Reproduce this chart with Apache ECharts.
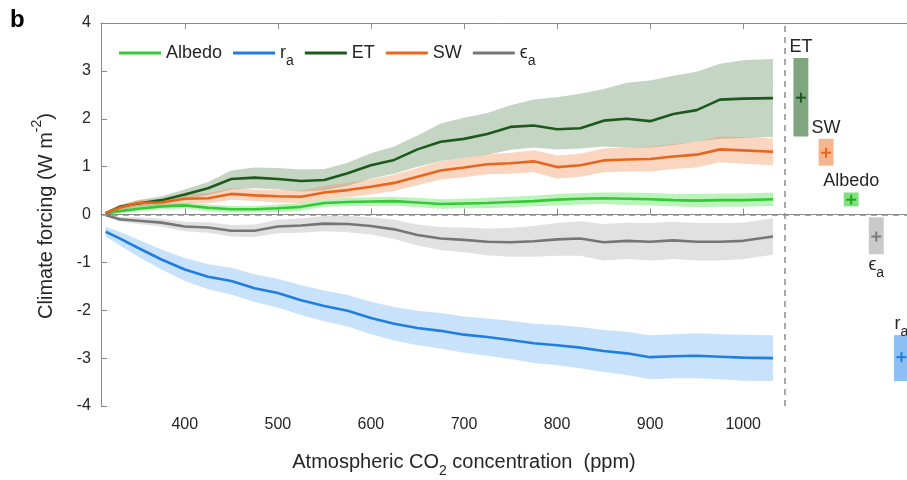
<!DOCTYPE html>
<html><head><meta charset="utf-8">
<script src="https://cdn.jsdelivr.net/npm/echarts@6/dist/echarts.min.js"></script>
<style>html,body{margin:0;padding:0;background:#fff}#c{width:907px;height:480px}</style>
</head><body><div id="c"></div>
<script>
// ---- data ----
const co2 = [315,330,350,375,400,425,450,475,500,525,550,575,600,625,650,675,700,725,750,775,800,825,850,875,900,925,950,975,1000,1032];

const albedoMean = [0.02,0.07,0.12,0.17,0.19,0.14,0.11,0.11,0.13,0.16,0.24,0.26,0.27,0.28,0.25,0.22,0.23,0.24,0.26,0.28,0.31,0.33,0.34,0.33,0.32,0.30,0.29,0.30,0.30,0.32];
const albedoHigh = [0.04,0.11,0.17,0.23,0.25,0.21,0.18,0.18,0.21,0.24,0.32,0.35,0.36,0.37,0.35,0.32,0.33,0.35,0.37,0.39,0.43,0.45,0.46,0.46,0.45,0.43,0.43,0.44,0.44,0.46];
const albedoLow  = [0.00,0.03,0.07,0.11,0.13,0.07,0.04,0.04,0.05,0.08,0.16,0.17,0.18,0.19,0.15,0.12,0.13,0.13,0.15,0.17,0.19,0.21,0.22,0.20,0.19,0.17,0.15,0.16,0.16,0.18];

const raMean = [-0.36,-0.50,-0.70,-0.94,-1.15,-1.30,-1.39,-1.54,-1.64,-1.79,-1.91,-2.01,-2.16,-2.28,-2.37,-2.43,-2.51,-2.56,-2.62,-2.69,-2.73,-2.78,-2.85,-2.90,-2.98,-2.96,-2.95,-2.97,-2.99,-3.00];
const raHigh = [-0.26,-0.36,-0.52,-0.73,-0.91,-1.04,-1.11,-1.25,-1.34,-1.48,-1.59,-1.68,-1.82,-1.93,-2.01,-2.06,-2.13,-2.17,-2.22,-2.28,-2.31,-2.35,-2.41,-2.45,-2.52,-2.50,-2.48,-2.50,-2.51,-2.52];
const raLow  = [-0.46,-0.64,-0.88,-1.15,-1.39,-1.56,-1.67,-1.83,-1.94,-2.10,-2.23,-2.34,-2.50,-2.63,-2.73,-2.80,-2.89,-2.95,-3.02,-3.10,-3.15,-3.21,-3.29,-3.35,-3.44,-3.42,-3.42,-3.44,-3.47,-3.48];

const etMean = [0.03,0.16,0.23,0.30,0.42,0.55,0.74,0.77,0.74,0.70,0.72,0.86,1.03,1.14,1.36,1.52,1.58,1.68,1.83,1.86,1.78,1.80,1.96,2.00,1.95,2.10,2.18,2.40,2.42,2.43];
const etHigh = [0.05,0.20,0.30,0.38,0.52,0.68,0.92,0.98,0.97,0.94,0.95,1.08,1.28,1.42,1.65,1.90,2.02,2.12,2.28,2.40,2.45,2.52,2.62,2.75,2.80,2.90,2.98,3.15,3.22,3.25];
const etLow  = [0.00,0.10,0.15,0.22,0.32,0.40,0.52,0.55,0.52,0.48,0.50,0.60,0.75,0.85,1.00,1.12,1.18,1.25,1.35,1.40,1.36,1.38,1.42,1.40,1.40,1.45,1.52,1.58,1.60,1.62];

const swMean = [0.03,0.14,0.24,0.25,0.33,0.34,0.43,0.40,0.38,0.37,0.46,0.51,0.58,0.66,0.79,0.92,0.98,1.05,1.07,1.11,0.99,1.03,1.13,1.15,1.16,1.21,1.25,1.36,1.34,1.31];
const swHigh = [0.06,0.19,0.31,0.33,0.43,0.45,0.55,0.52,0.51,0.50,0.60,0.66,0.74,0.83,0.97,1.11,1.18,1.26,1.29,1.34,1.23,1.27,1.38,1.40,1.42,1.47,1.52,1.63,1.62,1.59];
const swLow  = [0.00,0.09,0.17,0.17,0.23,0.23,0.31,0.28,0.25,0.24,0.32,0.36,0.42,0.49,0.61,0.73,0.78,0.84,0.85,0.88,0.75,0.79,0.88,0.90,0.90,0.95,0.98,1.09,1.06,1.03];

const epsMean = [-0.01,-0.10,-0.13,-0.17,-0.25,-0.27,-0.34,-0.34,-0.25,-0.23,-0.19,-0.20,-0.24,-0.31,-0.43,-0.50,-0.53,-0.57,-0.58,-0.56,-0.52,-0.50,-0.58,-0.55,-0.57,-0.54,-0.57,-0.57,-0.55,-0.46];
const epsHigh = [0.01,-0.05,-0.06,-0.09,-0.15,-0.16,-0.22,-0.21,-0.11,-0.08,-0.03,-0.03,-0.06,-0.11,-0.21,-0.26,-0.27,-0.29,-0.28,-0.24,-0.18,-0.14,-0.20,-0.17,-0.18,-0.15,-0.18,-0.18,-0.17,-0.08];
const epsLow  = [-0.03,-0.15,-0.20,-0.25,-0.35,-0.38,-0.46,-0.47,-0.39,-0.38,-0.35,-0.37,-0.42,-0.51,-0.65,-0.74,-0.79,-0.85,-0.88,-0.88,-0.86,-0.86,-0.96,-0.93,-0.96,-0.93,-0.96,-0.96,-0.93,-0.84];

// summary bars on the right
const endNames = ['ET','SW','Albedo','ϵ_a','r_a'];
const endCO2   = [1062,1089,1116,1143,1170];
const endMean  = [2.44,1.29,0.31,-0.46,-2.98];
const endLow   = [1.63,1.02,0.17,-0.83,-3.48];
const endHigh  = [3.27,1.58,0.46,-0.06,-2.52];

const xTicks = [400,500,600,700,800,900,1000];
const divider = 1045;

// ---- styling ----
const FONT = "'Liberation Sans', Arial, sans-serif";
const AX = '#8a8a8a';
const TXT = '#262626';
const sty = {
  'Albedo': {line:'#35c935', band:'#4fe04f', bandOp:0.38, bar:'#7fe27f', plus:'#1fa51f', pos:'top'},
  'r_a':    {line:'#1f7fe0', band:'#5aa8f2', bandOp:0.33, bar:'#8cc0f3', plus:'#1f7fe0', pos:'top'},
  'ET':     {line:'#1c5a1c', band:'#4b7d48', bandOp:0.32, bar:'#7fa67f', plus:'#1c5a1c', pos:'top'},
  'SW':     {line:'#e8661c', band:'#f28a4e', bandOp:0.35, bar:'#f6b58c', plus:'#e8661c', pos:'top'},
  'ϵ_a':    {line:'#767676', band:'#b4b4b4', bandOp:0.40, bar:'#c9c9c9', plus:'#7a7a7a', pos:'bottom'}
};
function richName(n){
  const p = n.split('_');
  return p.length > 1 ? '{n|' + p[0] + '}{s|' + p[1] + '}' : '{n|' + n + '}';
}
const richStyles = {
  n: {fontSize:18, fontFamily:FONT, fill:TXT, color:TXT, lineHeight:18, padding:[0,0,6,0], verticalAlign:'top'},
  s: {fontSize:14, fontFamily:FONT, fill:TXT, color:TXT, lineHeight:14, padding:[10,0,0,0], verticalAlign:'top'}
};

function band(name, low, high) {
  const st = sty[name];
  return {
    type:'custom', coordinateSystem:'cartesian2d', silent:true, z:1,
    data:[[co2[0], low[0]]],
    renderItem:(params, api) => {
      const pts = [];
      for (let i = 0; i < co2.length; i++) pts.push(api.coord([co2[i], high[i]]));
      for (let i = co2.length - 1; i >= 0; i--) pts.push(api.coord([co2[i], low[i]]));
      return {type:'polygon', shape:{points:pts}, style:{fill:st.band, opacity:st.bandOp}};
    }
  };
}
function line(name, mean) {
  return {
    type:'line', name:name, z:3, showSymbol:false, symbol:'none', silent:true,
    data: co2.map((x,i)=>[x, mean[i]]),
    lineStyle:{color:sty[name].line, width:2.6},
    itemStyle:{color:sty[name].line}
  };
}

const series = [
  band('ET', etLow, etHigh),
  band('SW', swLow, swHigh),
  band('Albedo', albedoLow, albedoHigh),
  band('ϵ_a', epsLow, epsHigh),
  band('r_a', raLow, raHigh),
  line('Albedo', albedoMean),
  line('r_a', raMean),
  line('ET', etMean),
  line('SW', swMean),
  line('ϵ_a', epsMean),
  {
    type:'line', silent:true, data:[], z:2,
    markLine:{
      silent:true, symbol:'none', label:{show:false},
      lineStyle:{color:'#8c8c8c', type:[6,5], width:1.5},
      data:[{yAxis:0}, {xAxis:divider}]
    }
  },
  {
    type:'custom', coordinateSystem:'cartesian2d', silent:true, z:4,
    data: endCO2.map((x,i)=>[x, endLow[i], endHigh[i], endMean[i]]),
    renderItem:(params, api) => {
      const i = params.dataIndex;
      const st = sty[endNames[i]];
      const x = api.value(0), lo = api.value(1), hi = api.value(2), m = api.value(3);
      const pT = api.coord([x, hi]), pB = api.coord([x, lo]), pM = api.coord([x, m]);
      const w = api.size([16, 0])[0];
      const children = [
        {type:'rect', shape:{x:pT[0]-w/2, y:pT[1], width:w, height:pB[1]-pT[1]}, style:{fill:st.bar}},
        {type:'line', shape:{x1:pM[0]-5, y1:pM[1], x2:pM[0]+5, y2:pM[1]}, style:{stroke:st.plus, lineWidth:2}},
        {type:'line', shape:{x1:pM[0], y1:pM[1]-5, x2:pM[0], y2:pM[1]+5}, style:{stroke:st.plus, lineWidth:2}}
      ];
      const top = st.pos === 'top';
      children.push({
        type:'text',
        x: pT[0], y: top ? pT[1] - 2 : pB[1] + 2,
        style:{text:richName(endNames[i]), rich:richStyles, fill:TXT,
          align:'center', verticalAlign: top ? 'bottom' : 'top'}
      });
      return {type:'group', children};
    }
  }
];

const chart = echarts.init(document.getElementById('c'), null, {renderer:'canvas'});
chart.setOption({
  animation:false,
  backgroundColor:'#fff',
  grid:{left:101, right:0, top:23, bottom:74, containLabel:false},
  legend:{
    left:114, top:39, icon:'rect', itemWidth:42, itemHeight:3, itemGap:11,
    selectedMode:false,
    data:['Albedo','r_a','ET','SW','ϵ_a'],
    formatter:(n)=>richName(n),
    textStyle:{fontSize:18, fontFamily:FONT, color:TXT, rich:richStyles}
  },
  xAxis:[
    {type:'value', min:310, max:1176, position:'bottom',
     axisLine:{show:true, lineStyle:{color:AX, width:1}},
     axisTick:{show:true, inside:true, length:6, customValues:xTicks, lineStyle:{color:AX}},
     axisLabel:{customValues:xTicks, formatter:(v)=>String(v), fontSize:16, fontFamily:FONT, color:TXT, margin:11},
     splitLine:{show:false}},
    {type:'value', min:310, max:1176, position:'top',
     axisLine:{show:true, lineStyle:{color:AX, width:1}},
     axisTick:{show:true, inside:true, length:6, customValues:xTicks, lineStyle:{color:AX}},
     axisLabel:{show:false}, splitLine:{show:false}}
  ],
  yAxis:{type:'value', min:-4, max:4, interval:1,
     axisLine:{show:true, lineStyle:{color:AX, width:1}},
     axisTick:{show:true, inside:true, length:6, lineStyle:{color:AX}},
     axisLabel:{fontSize:16, fontFamily:FONT, color:TXT, margin:10},
     splitLine:{show:false}},
  graphic:[
    {type:'text', left:10, top:8, style:{text:'b', font:'bold 24px ' + FONT, fill:'#000'}},
    {type:'text', x:40, y:216, rotation:Math.PI/2,
     style:{text:'{n|Climate forcing (W m}{p|-2}{n|)}', align:'center', verticalAlign:'middle', fill:TXT,
       rich:{
         n:{fontSize:20, fontFamily:FONT, fill:TXT, lineHeight:20, padding:[6,0,0,0], verticalAlign:'top'},
         p:{fontSize:14, fontFamily:FONT, fill:TXT, lineHeight:14, padding:[0,0,0,0], verticalAlign:'top'}
       }}},
    {type:'text', x:464, y:462,
     style:{text:'{n|Atmospheric CO}{s|2}{n| concentration  (ppm)}', align:'center', verticalAlign:'middle', fill:TXT,
       rich:{
         n:{fontSize:20, fontFamily:FONT, fill:TXT, lineHeight:20, padding:[0,0,6,0], verticalAlign:'top'},
         s:{fontSize:14, fontFamily:FONT, fill:TXT, lineHeight:14, padding:[12,0,0,0], verticalAlign:'top'}
       }}}
  ],
  series
});
</script>
</body></html>
